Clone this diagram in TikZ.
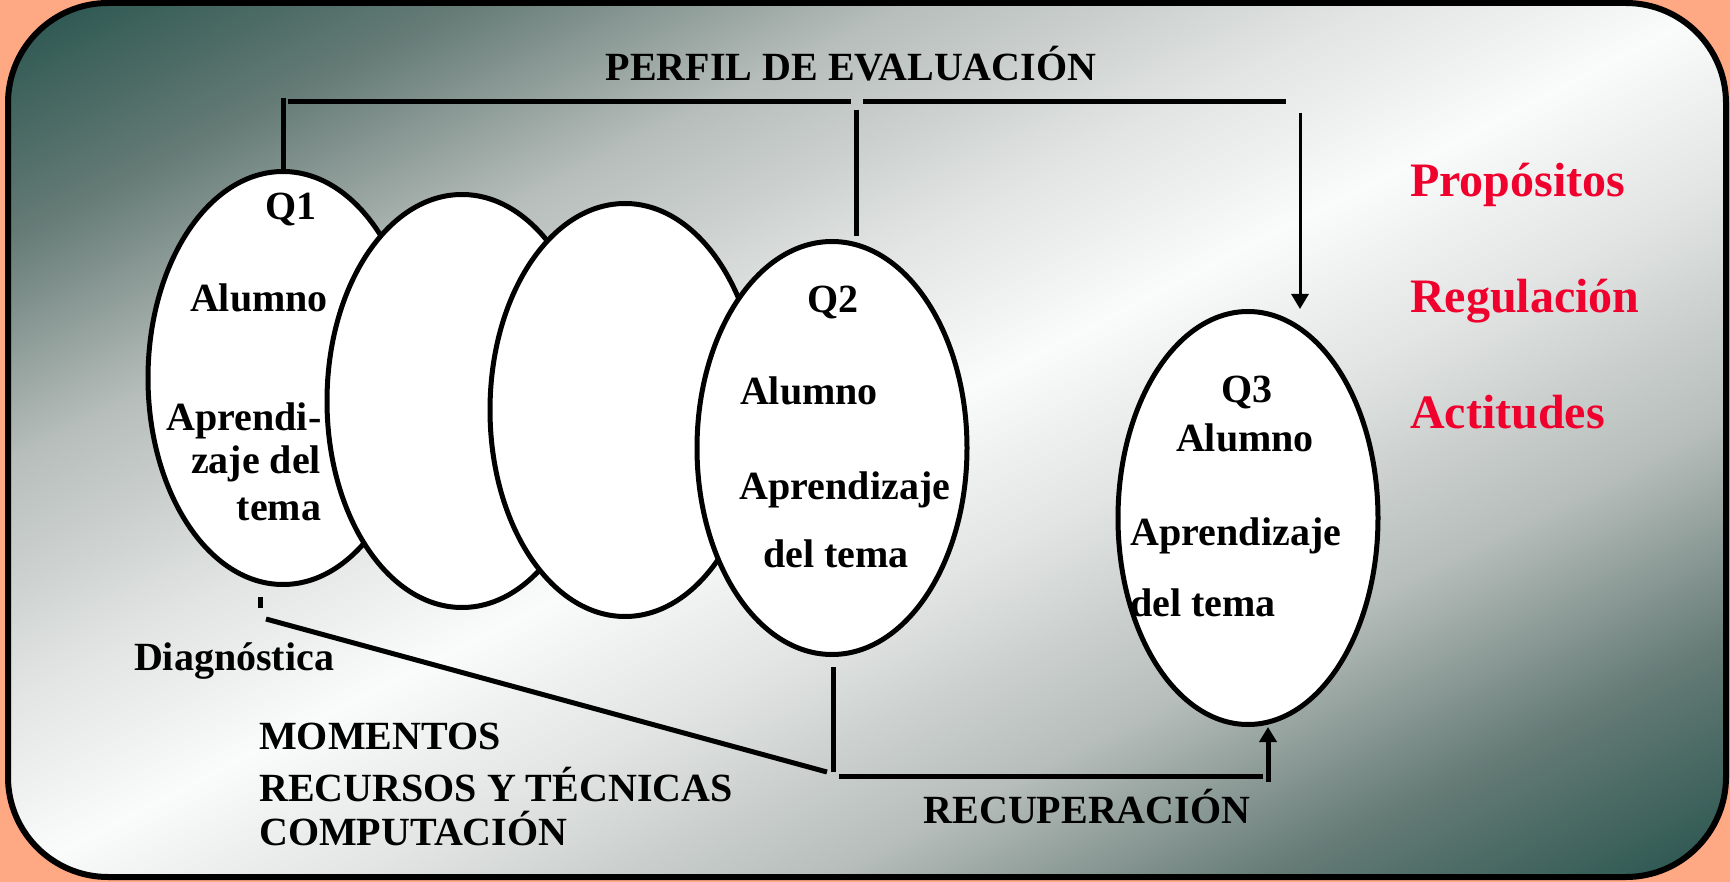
\documentclass[tikz,border=0pt]{standalone}
\usepackage{fontspec}
\setmainfont{Liberation Serif}
\usetikzlibrary{shapes.geometric,arrows.meta}
\definecolor{salmon}{RGB}{255,168,132}
\definecolor{dkteal}{RGB}{40,84,78}
\definecolor{midgr}{RGB}{100,122,117}
\definecolor{ltgr}{RGB}{182,189,186}
\definecolor{vltgr}{RGB}{226,229,228}
\definecolor{nwhite}{RGB}{250,251,251}
\definecolor{redtx}{RGB}{240,0,45}
\pgfdeclareverticalshading{diagbg}{100bp}{color(0bp)=(dkteal); color(14.64bp)=(dkteal); color(23.83bp)=(midgr); color(33bp)=(ltgr); color(42.93bp)=(vltgr); color(50bp)=(nwhite); color(57.07bp)=(vltgr); color(67bp)=(ltgr); color(76.17bp)=(midgr); color(85.36bp)=(dkteal); color(100bp)=(dkteal)}
\tikzset{
  oval/.style={draw,fill=white,ellipse,line width=5pt,inner sep=0pt,minimum width=270pt,minimum height=413pt},
  txt/.style={font=\fontsize{40}{47}\selectfont\bfseries,inner sep=0pt,anchor=base},
  redt/.style={font=\fontsize{48}{57}\selectfont\bfseries,text=redtx,inner sep=0pt,anchor=base west},
  ln/.style={line width=5pt},
  thinarrow/.style={line width=3pt,-{Triangle[width=17pt,length=15pt]}},
  thickarrow/.style={line width=5pt,-{Triangle[width=17pt,length=15pt]}}
}
\begin{document}
\begin{tikzpicture}[x=1pt,y=-1pt]
\useasboundingbox (0,0) rectangle (1730,882);
\fill[salmon] (0,0) rectangle (1730,882);
\begin{scope}
\clip[rounded corners=100pt] (8,3) rectangle (1726,877);
\begin{scope}[transform canvas={xscale=17.18,yscale=8.74}]
\shade[shading=diagbg,shading angle=45] (0.46566,0.34325) rectangle (100.46566,100.34325);
\end{scope}
\end{scope}
\draw[line width=6pt,rounded corners=100pt] (8,3) rectangle (1726,877);

% ellipses
\node[oval] (e1) at (283,378) {};
\node[oval] (e2) at (462,401) {};
\node[oval] (e3) at (625,410) {};
\node[oval] (q2) at (832,448) {};
\node[oval,minimum width=260pt] (q3) at (1248,518) {};

% texts
\node[txt] (title) at (851,81) {PERFIL DE EVALUACIÓN};
\node[txt] (q1l) at (291,220) {Q1};
\node[txt] (q1a) at (259,312) {Alumno};
\node[txt] (q1b) at (244,431) {Aprendi-};
\node[txt] (q1c) at (256,473) {zaje del};
\node[txt] (q1d) at (279,520) {tema};
\node[txt] (q2l) at (833,313) {Q2};
\node[txt] (q2a) at (809,405) {Alumno};
\node[txt] (q2b) at (845,499) {Aprendizaje};
\node[txt] (q2c) at (836,567) {del tema};
\node[txt] (q3l) at (1247,403) {Q3};
\node[txt] (q3a) at (1245,451) {Alumno};
\node[txt] (q3b) at (1236,545) {Aprendizaje};
\node[txt] (q3c) at (1203,616) {del tema};
\node[redt] (r1) at (1410,197) {Propósitos};
\node[redt] (r2) at (1410,313) {Regulación};
\node[redt] (r3) at (1410,429) {Actitudes};
\node[txt] (diag) at (234,670) {Diagnóstica};
\node[txt,anchor=base west] (m1) at (259,749) {MOMENTOS};
\node[txt,anchor=base west] (m2) at (259,801) {RECURSOS Y TÉCNICAS};
\node[txt,anchor=base west] (m3) at (259,845) {COMPUTACIÓN};
\node[txt] (recup) at (1087,823) {RECUPERACIÓN};

% connector points
\coordinate (a1) at (283,98);
\coordinate (a2) at (288,102);
\coordinate (a3) at (851,102);
\coordinate (a4) at (863,102);
\coordinate (a5) at (1286,102);
\coordinate (b1) at (856,110);
\coordinate (b2) at (856,236);
\coordinate (c1) at (1300,113);
\coordinate (c2) at (1300,309);
\coordinate (d1) at (260,597);
\coordinate (d2) at (260,608);
\coordinate (d3) at (266,619);
\coordinate (d4) at (827,772);
\coordinate (f1) at (833,667);
\coordinate (f2) at (833,772);
\coordinate (g1) at (839,776);
\coordinate (g2) at (1263,776);
\coordinate (h1) at (1268,782);
\coordinate (h2) at (1268,727);

\draw[ln] (a1) -- (e1.north);
\draw[ln] (a2) -- (a3);
\draw[ln] (a4) -- (a5);
\draw[ln] (b1) -- (b2);
\draw[thinarrow] (c1) -- (c2);
\draw[ln] (d1) -- (d2);
\draw[ln] (d3) -- (d4);
\draw[ln] (f1) -- (f2);
\draw[ln] (g1) -- (g2);
\draw[thickarrow] (h1) -- (h2);
\end{tikzpicture}
\end{document}
